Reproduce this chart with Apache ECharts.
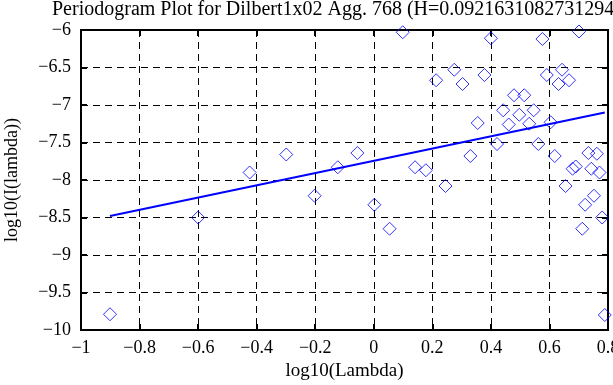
<!DOCTYPE html>
<html><head><meta charset="utf-8">
<script src="https://cdn.jsdelivr.net/npm/echarts@6/dist/echarts.min.js"></script>
<style>html,body{margin:0;padding:0;background:#fff}#c{width:613px;height:385px}</style>
</head><body><div id="c"></div>
<script>
const titleText = 'Periodogram Plot for Dilbert1x02 Agg. 768 (H=0.0921631082731294)';
const xName = 'log10(Lambda)';
const yName = 'log10(I(lambda))';
const logLambda = [-0.901,-0.600,-0.424,-0.299,-0.202,-0.123,-0.056,0.002,0.054,0.099,0.141,0.178,0.213,0.245,0.275,0.303,0.330,0.355,0.378,0.400,0.421,0.442,0.461,0.479,0.497,0.514,0.531,0.546,0.562,0.576,0.591,0.604,0.618,0.631,0.643,0.655,0.667,0.679,0.690,0.701,0.712,0.722,0.733,0.743,0.752,0.762,0.771,0.780,0.789];
const logI = [-9.79,-8.50,-7.90,-7.66,-8.21,-7.83,-7.64,-8.33,-8.65,-6.03,-7.83,-7.87,-6.67,-8.08,-6.53,-6.72,-7.68,-7.24,-6.60,-6.11,-7.52,-7.07,-7.26,-6.87,-7.13,-6.87,-7.25,-7.07,-7.52,-6.12,-6.60,-7.23,-7.68,-6.72,-6.53,-8.08,-6.67,-7.85,-7.82,-6.02,-8.65,-8.33,-7.64,-7.85,-8.21,-7.65,-7.90,-8.50,-9.80];
const fitX = [-0.901, 0.789];
const fitY = [-8.48, -7.10];

const font = 'Liberation Serif';
const fmt = v => String(+v.toFixed(2)).replace('-', '\u2212');
const chart = echarts.init(document.getElementById('c'), null, {renderer: 'canvas'});
const dashed = {show: true, lineStyle: {color: '#000', type: [7, 5], width: 1}};
const tickFont = {fontFamily: font, fontSize: 18, color: '#000'};
chart.setOption({
  animation: false,
  backgroundColor: '#fff',
  title: {text: titleText, left: 47, top: -5, textStyle: {fontFamily: font, fontSize: 20, fontWeight: 'normal', color: '#000'}},
  grid: {left: 81, right: 5, top: 30, bottom: 55, outerBoundsMode: 'none', containLabel: false, show: true, borderColor: '#000', borderWidth: 2, backgroundColor: 'transparent'},
  xAxis: [{
    type: 'value', min: -1, max: 0.8, interval: 0.2, position: 'bottom',
    name: xName, nameLocation: 'middle', nameGap: 29,
    nameTextStyle: {fontFamily: font, fontSize: 19, color: '#000'},
    axisLine: {show: true, onZero: false, lineStyle: {color: '#000', width: 2}},
    axisTick: {show: true, inside: true, length: 6, lineStyle: {color: '#000', width: 2}},
    axisLabel: Object.assign({margin: 9, formatter: fmt, showMinLabel: true, showMaxLabel: true, hideOverlap: false}, tickFont),
    splitLine: dashed
  }, {
    type: 'value', min: -1, max: 0.8, interval: 0.2, position: 'top',
    axisLine: {show: true, onZero: false, lineStyle: {color: '#000', width: 2}},
    axisTick: {show: true, inside: true, length: 6, lineStyle: {color: '#000', width: 2}},
    axisLabel: {show: false}, splitLine: {show: false}
  }],
  yAxis: [{
    type: 'value', min: -10, max: -6, interval: 0.5, position: 'left',
    name: yName, nameLocation: 'middle', nameGap: 60, nameRotate: 90,
    nameTextStyle: {fontFamily: font, fontSize: 18, color: '#000'},
    axisLine: {show: true, onZero: false, lineStyle: {color: '#000', width: 2}},
    axisTick: {show: true, inside: true, length: 6, lineStyle: {color: '#000', width: 2}},
    axisLabel: Object.assign({margin: 10, formatter: fmt}, tickFont),
    splitLine: dashed
  }, {
    type: 'value', min: -10, max: -6, interval: 0.5, position: 'right',
    axisLine: {show: true, onZero: false, lineStyle: {color: '#000', width: 2}},
    axisTick: {show: true, inside: true, length: 6, lineStyle: {color: '#000', width: 2}},
    axisLabel: {show: false}, splitLine: {show: false}
  }],
  series: [{
    type: 'scatter', clip: false,
    data: logLambda.map((x, i) => [x, logI[i]]),
    symbol: 'diamond', symbolSize: [13, 13],
    itemStyle: {color: 'rgba(0,0,0,0)', borderColor: '#0000ff', borderWidth: 1}
  }, {
    type: 'line', data: fitX.map((x, i) => [x, fitY[i]]),
    showSymbol: false, symbol: 'none',
    lineStyle: {color: '#0000ff', width: 2}
  }]
});
</script></body></html>
